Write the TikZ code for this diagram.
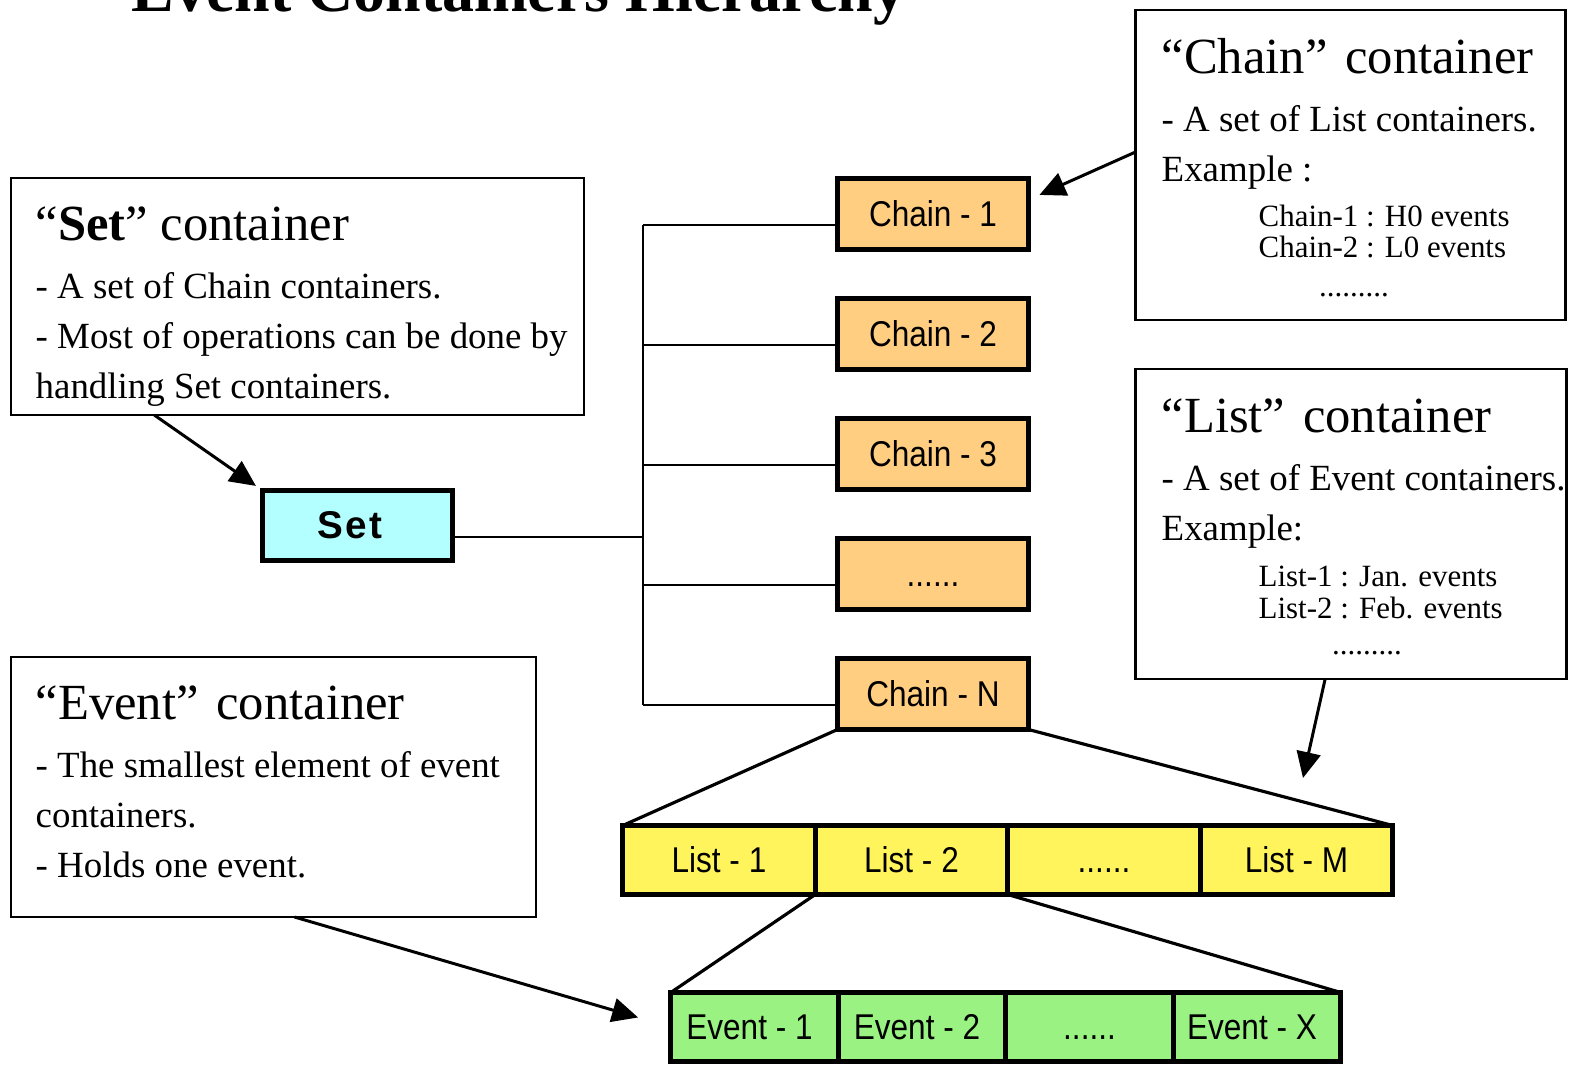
\documentclass[tikz,border=0pt]{standalone}
\usepackage{fontspec}
\setmainfont{Liberation Serif}
\newfontfamily\boxfont[FakeStretch=0.88]{Liberation Sans}
\newfontfamily\setfont[LetterSpace=6]{Liberation Sans}
\usetikzlibrary{positioning,arrows.meta,calc}

\definecolor{setcyan}{RGB}{179,255,255}
\definecolor{chainorange}{RGB}{255,206,128}
\definecolor{listyellow}{RGB}{255,244,92}
\definecolor{eventgreen}{RGB}{153,242,130}

\tikzset{
  cell/.style={draw, line width=1.4pt, outer sep=0pt, minimum height=0.70cm,
    text height=0.72em, text depth=0pt, font=\boxfont\fontsize{10.2}{12}\selectfont},
  chainbox/.style={cell, fill=chainorange, minimum width=1.91cm, minimum height=0.71cm},
  listbox/.style={cell, fill=listyellow, minimum width=1.925cm, minimum height=0.69cm},
  eventbox/.style={cell, fill=eventgreen, minimum width=1.675cm, minimum height=0.69cm},
  infobox/.style={draw, line width=0.6pt, outer sep=0pt},
  infohead/.style={anchor=base west, inner sep=0pt, font=\fontsize{14.4}{17}\selectfont},
  infotext/.style={anchor=base west, inner sep=0pt, font=\fontsize{10.5}{12.6}\selectfont},
  infosmall/.style={anchor=base west, inner sep=0pt, font=\fontsize{8.8}{10.5}\selectfont},
  tree/.style={line width=0.6pt},
  zoomline/.style={line width=0.9pt},
  pointer/.style={line width=0.85pt, -{Triangle[length=0.26cm,width=0.24cm]}},
}

\begin{document}
\begin{tikzpicture}
  \useasboundingbox (0,0) rectangle (15.72,-10.67);
  \clip (0,0) rectangle (15.72,-10.67);

  % title, only its lower part is on the page
  \node[anchor=base west, inner sep=0pt, font=\bfseries\fontsize{18.2}{20}\selectfont]
    (title) at (1.31,-0.11) {Event Containers Hierarchy};

  % set and its chains
  \node[cell, fill=setcyan, minimum width=1.90cm,
    font=\setfont\bfseries\fontsize{11}{12}\selectfont] (setbox) at (3.575,-5.255) {\hspace*{-0.15cm}Set};

  \node[chainbox] (chain1) at (9.33,-2.14) {Chain - 1};
  \node[chainbox, below=0.49cm of chain1] (chain2) {Chain - 2};
  \node[chainbox, below=0.49cm of chain2] (chain3) {Chain - 3};
  \node[chainbox, below=0.49cm of chain3] (chaindots) {......};
  \node[chainbox, below=0.49cm of chaindots] (chainN) {Chain - N};

  \coordinate (trunk) at (6.43,0);
  \foreach \c in {chain1,chain2,chain3,chaindots,chainN}
    \draw[tree] ($(\c.west)+(0,-0.11)$) -- ($(\c.west -| trunk)+(0,-0.11)$);
  \draw[tree] ($(chain1.west -| trunk)+(0,-0.11)$) -- ($(chainN.west -| trunk)+(0,-0.11)$);
  \draw[tree] ($(setbox.east)+(0,-0.115)$) -- ($(setbox.east -| trunk)+(0,-0.115)$);

  % lists inside chain N
  \node[listbox] (list1) at (7.19,-8.60) {List - 1};
  \node[listbox, right=0cm of list1] (list2) {List - 2};
  \node[listbox, right=0cm of list2] (listdots) {......};
  \node[listbox, right=0cm of listdots] (listM) {List - M};

  \draw[zoomline] (chainN.south west) -- (list1.north west);
  \draw[zoomline] (chainN.south east) -- (listM.north east);

  % events inside list 2
  \node[eventbox] (event1) at (7.545,-10.27) {\hspace*{-0.1cm}Event - 1};
  \node[eventbox, right=0cm of event1] (event2) {\hspace*{-0.1cm}Event - 2};
  \node[eventbox, right=0cm of event2] (eventdots) {......};
  \node[eventbox, right=0cm of eventdots] (eventX) {\hspace*{-0.1cm}Event - X};

  \draw[zoomline] (list2.south west) -- (event1.north west);
  \draw[zoomline] (list2.south east) -- (eventX.north east);

  % notes
  \node[infobox, minimum width=5.73cm, minimum height=2.37cm] (setinfo) at (2.975,-2.965) {};
  \node[infohead] (sethead) at (0.35,-2.40) {“\textbf{Set}” container};
  \node[infotext] (setline1) at (0.35,-2.98) {- A set of Chain containers.};
  \node[infotext] (setline2) at (0.35,-3.48) {- Most of operations can be done by};
  \node[infotext] (setline3) at (0.35,-3.98) {handling Set containers.};

  \node[infobox, minimum width=4.30cm, minimum height=3.10cm] (chaininfo) at (13.505,-1.65) {};
  \node[infohead] (chainhead) at (11.61,-0.73) {“Chain”\hspace{0.1em} container};
  \node[infotext] (chainline1) at (11.61,-1.31) {- A set of List containers.};
  \node[infotext] (chainline2) at (11.61,-1.81) {Example :};
  \node[infosmall] (chainex1) at (12.58,-2.26) {Chain-1 : H0 events};
  \node[infosmall] (chainex2) at (12.58,-2.57) {Chain-2 : L0 events};
  \node[infosmall, anchor=base] (chainmore) at (13.54,-2.96) {.........};

  \node[infobox, minimum width=4.31cm, minimum height=3.10cm] (listinfo) at (13.51,-5.24) {};
  \node[infohead] (listhead) at (11.61,-4.32) {“List”\hspace{0.1em} container};
  \node[infotext] (listline1) at (11.61,-4.90) {- A set of Event containers.};
  \node[infotext] (listline2) at (11.61,-5.40) {Example:};
  \node[infosmall] (listex1) at (12.58,-5.86) {List-1 : Jan. events};
  \node[infosmall] (listex2) at (12.58,-6.18) {List-2 : Feb. events};
  \node[infosmall, anchor=base] (listmore) at (13.67,-6.54) {.........};

  \node[infobox, minimum width=5.25cm, minimum height=2.60cm] (eventinfo) at (2.735,-7.87) {};
  \node[infohead] (eventhead) at (0.35,-7.19) {“Event”\hspace{0.1em} container};
  \node[infotext] (eventline1) at (0.35,-7.77) {- The smallest element of event};
  \node[infotext] (eventline2) at (0.35,-8.27) {containers.};
  \node[infotext] (eventline3) at (0.35,-8.77) {- Holds one event.};

  % pointers from the notes
  \coordinate (listtip) at (13.03,-7.78);
  \draw[pointer, shorten >=0.08cm] ($(setinfo.south west)!0.25!(setinfo.south east)$) -- (setbox.north west);
  \draw[pointer, shorten >=0.12cm] ($(chaininfo.west)+(0,0.13)$) -- ($(chain1.north east)!0.3!(chain1.south east)$);
  \draw[pointer] ($(listinfo.south west)!0.44!(listinfo.south east)$) -- (listtip);
  \draw[pointer, shorten >=0.34cm] ($(eventinfo.south west)!0.54!(eventinfo.south east)$) -- (event1.west);
\end{tikzpicture}
\end{document}
